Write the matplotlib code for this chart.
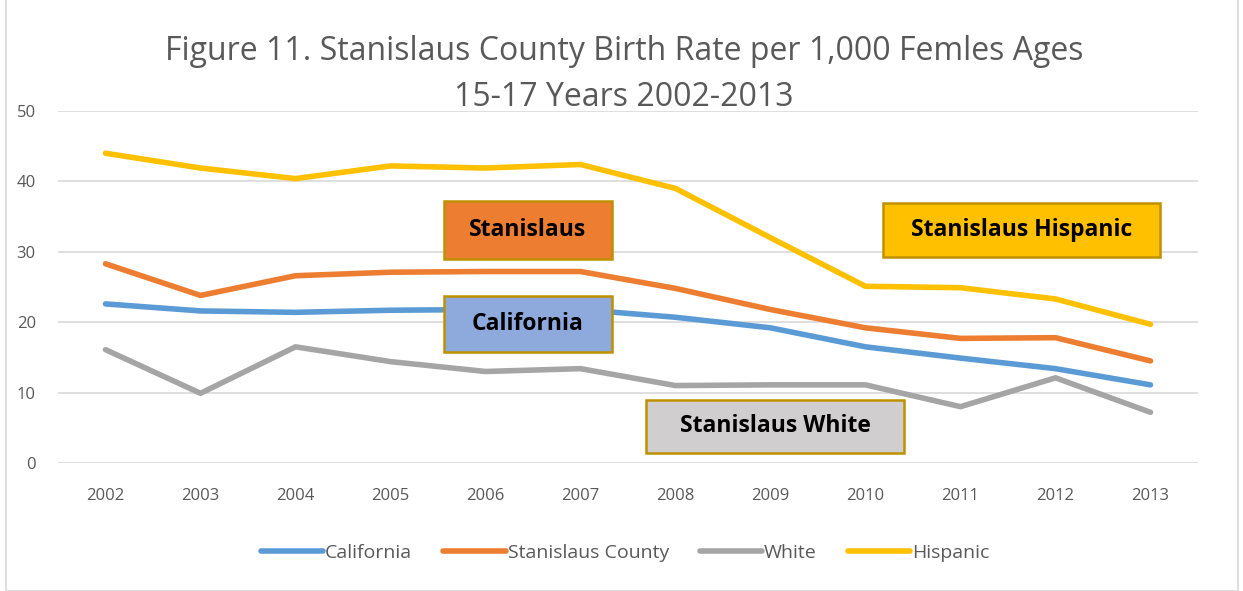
import matplotlib
matplotlib.use('Agg')
from matplotlib import pyplot as plt
import matplotlib.patches as mpatches

# Data
years = ['2002', '2003', '2004', '2005', '2006', '2007', '2008', '2009', '2010', '2011', '2012', '2013']
california = [22.6, 21.6, 21.4, 21.7, 21.8, 21.8, 20.7, 19.2, 16.5, 14.9, 13.4, 11.1]
stanislaus = [28.3, 23.8, 26.6, 27.1, 27.2, 27.2, 24.8, 21.8, 19.2, 17.7, 17.8, 14.5]
white = [16.1, 9.9, 16.5, 14.4, 13.0, 13.4, 11.0, 11.1, 11.1, 8.0, 12.1, 7.2]
hispanic = [44.0, 41.9, 40.4, 42.2, 41.9, 42.4, 39.0, 32.0, 25.1, 24.9, 23.3, 19.7]
series_names = ['California', 'Stanislaus County', 'White', 'Hispanic']

colors = ['#5B9BD5', '#ED7D31', '#A5A5A5', '#FFC000']
textGray = '#595959'

plt.rcParams['font.family'] = ['Open Sans', 'DejaVu Sans']

fig = plt.figure(figsize=(12.43, 5.91), dpi=100)
ax = fig.add_axes([58 / 1243, 1 - 463 / 591, (1198 - 58) / 1243, (463 - 111) / 591])

x = list(range(len(years)))
for vals, name, c in zip([california, stanislaus, white, hispanic], series_names, colors):
    ax.plot(x, vals, color=c, linewidth=4, label=name, solid_capstyle='round', solid_joinstyle='round')

ax.set_ylim(0, 50)
ax.set_xlim(-0.5, len(years) - 0.5)
ax.set_yticks([0, 10, 20, 30, 40, 50])
ax.set_xticks(x)
ax.set_xticklabels(years)
ax.grid(axis='y', color='#D9D9D9', linewidth=1.2)
ax.set_axisbelow(True)
for s in ax.spines.values():
    s.set_visible(False)
ax.tick_params(axis='both', length=0, labelcolor=textGray, labelsize=12)
ax.tick_params(axis='x', pad=18)
ax.tick_params(axis='y', pad=16)

# Title
fig.text(0.502, 1 - 52 / 591, 'Figure 11. Stanislaus County Birth Rate per 1,000 Femles Ages',
         ha='center', va='center', fontsize=23, color=textGray)
fig.text(0.502, 1 - 98 / 591, '15-17 Years 2002-2013',
         ha='center', va='center', fontsize=23, color=textGray)

# Label boxes (pixel extents from the reference)
boxes = [
    ('Stanislaus', 444, 612, 201, 259, '#ED7D31'),
    ('California', 444, 612, 296, 352, '#8EA9DB'),
    ('Stanislaus White', 646, 904, 400, 453, '#D0CECE'),
    ('Stanislaus Hispanic', 883, 1160, 203, 257, '#FFC000'),
]
for label, x0, x1, y0, y1, fc in boxes:
    rect = mpatches.Rectangle((x0 / 1243, 1 - y1 / 591), (x1 - x0) / 1243, (y1 - y0) / 591,
                              transform=fig.transFigure, facecolor=fc, edgecolor='#BF9000',
                              linewidth=1.8, zorder=5)
    fig.patches.append(rect)
    fig.text((x0 + x1) / 2 / 1243, 1 - (y0 + y1) / 2 / 591, label, ha='center', va='center',
             fontsize=16.5, fontweight='bold', color='black', zorder=6)

# Legend
leg = fig.legend(loc='center', bbox_to_anchor=(0.503, 1 - 553 / 591), ncol=4, frameon=False,
                 fontsize=14, handlelength=3.2, handletextpad=0.1, columnspacing=1.6)
for t in leg.get_texts():
    t.set_color(textGray)

# Outer chart border
fig.patches.append(mpatches.Rectangle((6 / 1243, 0), 1232 / 1243, 1.2, transform=fig.transFigure,
                                      fill=False, edgecolor='#D9D9D9', linewidth=1.2))

plt.savefig('out.png', dpi=100)
